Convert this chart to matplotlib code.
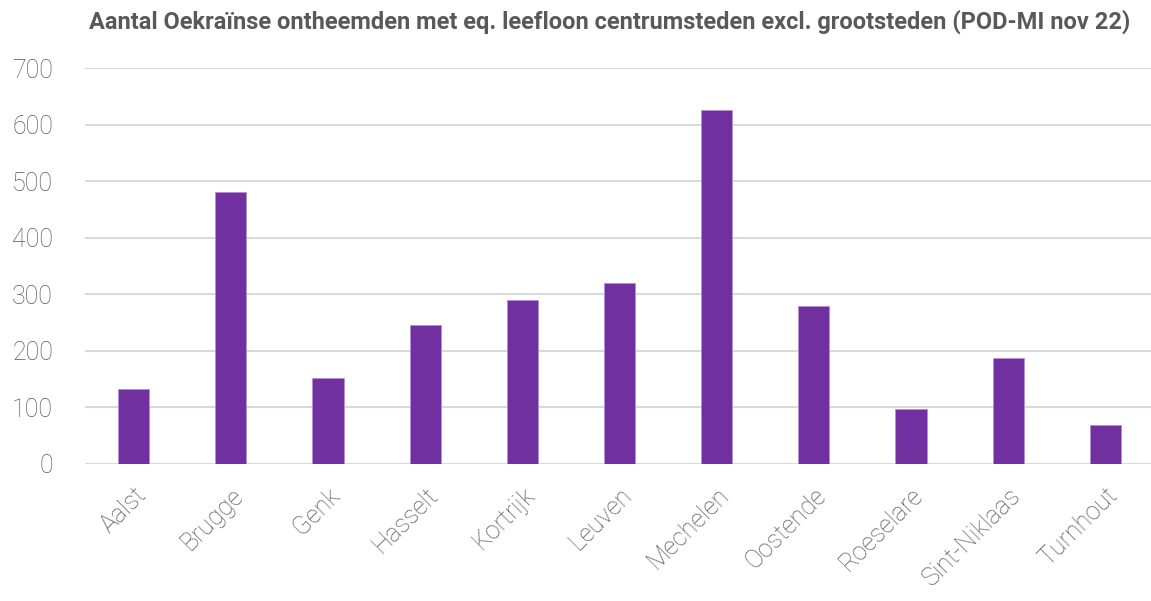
import matplotlib
matplotlib.use("Agg")
import matplotlib.pyplot as plt

cities = ["Aalst", "Brugge", "Genk", "Hasselt", "Kortrijk", "Leuven",
          "Mechelen", "Oostende", "Roeselare", "Sint-Niklaas", "Turnhout"]
values = [133, 480, 152, 246, 289, 319, 625, 279, 96, 187, 69]
yticks = [0, 100, 200, 300, 400, 500, 600, 700]
title = "Aantal Oekraïnse ontheemden met eq. leefloon centrumsteden excl. grootsteden (POD-MI nov 22)"

FONT = ["Roboto", "DejaVu Sans"]
TXT = "#595959"

fig = plt.figure(figsize=(11.51, 6.01), dpi=100)
ax = fig.add_axes([85/1151, 1 - 463.7/601, (1154 - 85)/1151, (463.7 - 68)/601])

x = list(range(len(cities)))
ax.bar(x, values, width=0.32, color="#7030A0", edgecolor="#B58FD0", linewidth=0.6, zorder=3)
ax.set_xlim(-0.5, len(cities) - 0.5)
ax.set_ylim(0, 700)
ax.set_yticks(yticks)
ax.yaxis.grid(True, color="#D9D9D9", linewidth=1.5, zorder=0)
ax.set_axisbelow(True)
for s in ax.spines.values():
    s.set_visible(False)
ax.tick_params(axis="both", length=0)
ax.set_xticks(x)
ax.set_xticklabels(cities, rotation=45, ha="right", rotation_mode="anchor",
                   fontsize=18, color=TXT, family=FONT, fontweight="light")
for lab in ax.get_yticklabels():
    lab.set_fontsize(18)
    lab.set_color(TXT)
    lab.set_family(FONT)
    lab.set_fontweight("light")
ax.tick_params(axis="y", pad=23)
ax.tick_params(axis="x", pad=14)

fig.text(610/1151, 1 - 22/601, title, ha="center", va="center", fontsize=17,
         fontweight="bold", color=TXT, family=FONT)

fig.savefig("out.png", dpi=100, facecolor="white")
